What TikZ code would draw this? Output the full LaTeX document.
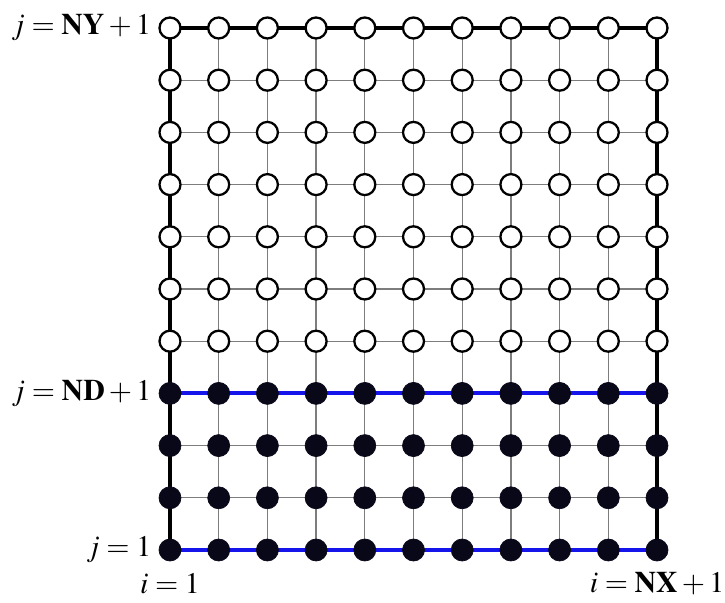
\documentclass[tikz,border=0pt]{standalone}
\usepackage{mathptmx}
\usetikzlibrary{positioning,backgrounds}
\definecolor{gridln}{RGB}{125,125,125}
\definecolor{ndline}{RGB}{20,20,235}
\definecolor{dotblk}{RGB}{8,8,25}

\tikzset{
  opennode/.style={circle,draw=black,line width=1.3pt,fill=white,minimum size=0.42cm,inner sep=0pt},
  solidnode/.style={circle,draw=dotblk,fill=dotblk,minimum size=0.44cm,inner sep=0pt},
  gridline/.style={gridln,line width=0.7pt},
  wallline/.style={black,line width=2.3pt},
  bcline/.style={ndline,line width=2.2pt},
  idxlbl/.style={font=\fontsize{17}{20}\selectfont,inner sep=1pt}
}

\begin{document}
\begin{tikzpicture}[x=0.974cm,y=1.044cm]
  \useasboundingbox (-3.4cm,-1.04cm) rectangle (11.1cm,11.0cm);
  % grid points: solid up to j = ND+1, open above
  \foreach \i in {1,...,11}{
    \foreach \j in {1,...,4}{
      \node[solidnode] (p-\i-\j) at (\i-1,\j-1) {};
    }
    \foreach \j in {5,...,11}{
      \node[opennode] (p-\i-\j) at (\i-1,\j-1) {};
    }
  }
  \begin{pgfonlayer}{background}
    \foreach \k in {2,...,10}{
      \draw[gridline] (p-\k-1.center) -- (p-\k-11.center);
    }
    \foreach \k in {2,3,5,6,...,10}{
      \draw[gridline] (p-1-\k.center) -- (p-11-\k.center);
    }
    \draw[wallline] (p-1-1.center) -- (p-1-11.center) -- (p-11-11.center) -- (p-11-1.center);
    \draw[bcline] (p-1-1.center) -- (p-11-1.center);
    \draw[bcline] (p-1-4.center) -- (p-11-4.center);
  \end{pgfonlayer}
  % index labels
  \node[idxlbl,left=3pt of p-1-11] (jtop) {$j=\mathbf{NY}+1$};
  \node[idxlbl,left=3pt of p-1-4] (jnd) {$j=\mathbf{ND}+1$};
  \node[idxlbl,left=3pt of p-1-1] (jone) {$j=1$};
  \node[idxlbl,below=6pt of p-1-1] (ione) {$i=1$};
  \node[idxlbl,below=5pt of p-11-1] (inx) {$i=\mathbf{NX}+1$};
\end{tikzpicture}
\end{document}
